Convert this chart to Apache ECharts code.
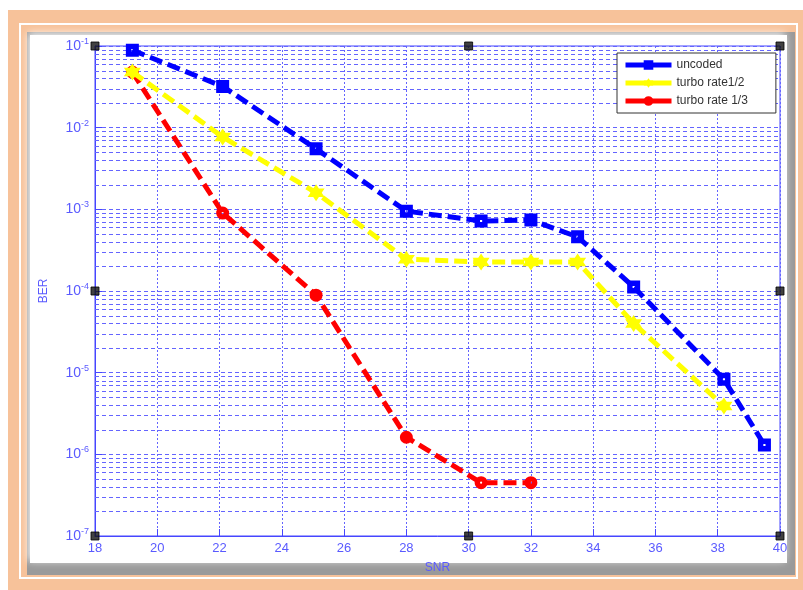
<!DOCTYPE html>
<html>
<head>
<meta charset="utf-8">
<script src="https://cdn.jsdelivr.net/npm/echarts@6/dist/echarts.min.js"></script>
<style>
  html, body { margin: 0; padding: 0; background: #ffffff; }
  #chart { width: 803px; height: 590px; }
</style>
</head>
<body>
<div id="chart"></div>
<script>
// SNR sample points (dB) for each curve
const snrUncoded = [19.2, 22.1, 25.1, 28.0, 30.4, 32.0, 33.5, 35.3, 38.2, 39.5];
const berUncoded = [0.089, 0.032, 0.0055, 0.00095, 0.00072, 0.00074, 0.00046, 1.12e-4, 8.3e-6, 1.3e-6];

const snrHalf = [19.2, 22.1, 25.1, 28.0, 30.4, 32.0, 33.5, 35.3, 38.2];
const berHalf = [0.048, 0.0077, 0.0016, 2.45e-4, 2.26e-4, 2.26e-4, 2.26e-4, 4.0e-5, 3.9e-6];

const snrThird = [19.2, 22.1, 25.1, 28.0, 30.4, 32.0];
const berThird = [0.048, 9.0e-4, 8.9e-5, 1.62e-6, 4.5e-7, 4.5e-7];

const seriesNames = ['uncoded', 'turbo rate1/2', 'turbo rate 1/3'];
const xTicks = [18, 20, 22, 24, 26, 28, 30, 32, 34, 36, 38, 40];
const yDecades = [1e-7, 1e-6, 1e-5, 1e-4, 1e-3, 1e-2, 1e-1];
// axis corner / midpoint handle markers
const handleX = [18, 30, 40, 18, 40, 18, 30, 40];
const handleY = [1e-1, 1e-1, 1e-1, 1e-4, 1e-4, 1e-7, 1e-7, 1e-7];

const AXIS = '#4646ff';
const GRID = '#6464ff';
const LABEL = '#5a5aff';
const FONT = 'Liberation Sans, Arial, sans-serif';

// minor horizontal grid levels at 2..9 x 10^k inside each decade
const minorLevels = [];
yDecades.slice(0, -1).forEach(d => {
  for (let m = 2; m <= 9; m++) minorLevels.push(m * d);
});

const pair = (xs, ys) => xs.map((x, i) => [x, ys[i]]);
const hexagram = 'path://M10,0 L12.89,5 L18.66,5 L15.77,10 L18.66,15 L12.89,15 L10,20 L7.11,15 L1.34,15 L4.23,10 L1.34,5 L7.11,5 Z';
const squareDot = 'path://M0,0 L12,0 L12,12 L0,12 Z M5,5 L5,7 L7,7 L7,5 Z';
const circleDot = 'path://M6,0 A6,6 0 1,1 6,12 A6,6 0 1,1 6,0 Z M6,5 A1,1 0 1,0 6,7 A1,1 0 1,0 6,5 Z';

const chart = echarts.init(document.getElementById('chart'));
chart.setOption({
  animation: false,
  backgroundColor: '#ffffff',
  graphic: [
    { type: 'rect', z: -10, shape: { x: 8, y: 10, width: 795, height: 580 }, style: { fill: '#f7c29a' } },
    { type: 'rect', z: -9, shape: { x: 20, y: 24, width: 777, height: 554 }, style: { fill: 'none', stroke: '#ffffff', lineWidth: 2 } },
    { type: 'rect', z: -8, shape: { x: 27, y: 32, width: 768, height: 543 }, style: { fill: '#9a9a9a' } },
    { type: 'rect', z: -7, shape: { x: 30, y: 35, width: 757, height: 528 },
      style: { fill: '#ffffff', shadowBlur: 8, shadowColor: 'rgba(255,255,255,0.9)', shadowOffsetX: -2, shadowOffsetY: -2 } }
  ],
  grid: { left: 95, right: 23, top: 46, bottom: 54, show: true, borderColor: AXIS, borderWidth: 1, backgroundColor: 'transparent' },
  legend: {
    data: seriesNames,
    orient: 'vertical',
    left: 617, top: 53,
    itemWidth: 46, itemHeight: 12, itemGap: 6,
    padding: [6, 28, 6, 6],
    backgroundColor: '#ffffff',
    borderColor: '#333333', borderWidth: 1,
    lineStyle: { type: 'solid', width: 5 },
    textStyle: { color: '#333333', fontSize: 12, fontFamily: FONT },
    z: 20
  },
  xAxis: {
    type: 'value', min: xTicks[0], max: xTicks[xTicks.length - 1], interval: 2,
    name: 'SNR', nameLocation: 'middle', nameGap: 26,
    nameTextStyle: { color: LABEL, fontSize: 12, fontFamily: FONT },
    axisLine: { lineStyle: { color: AXIS, width: 1 } },
    axisTick: { inside: true, length: 7, lineStyle: { color: AXIS } },
    axisLabel: { color: LABEL, fontSize: 13, margin: 6, fontFamily: FONT },
    splitLine: { show: true, lineStyle: { color: GRID, type: [2, 2], width: 1 } }
  },
  yAxis: {
    type: 'log', logBase: 10, min: yDecades[0], max: yDecades[yDecades.length - 1],
    name: 'BER', nameLocation: 'middle', nameGap: 45,
    nameTextStyle: { color: LABEL, fontSize: 12, fontFamily: FONT },
    axisLine: { lineStyle: { color: AXIS, width: 1 } },
    axisTick: { inside: true, length: 7, lineStyle: { color: AXIS } },
    axisLabel: {
      color: LABEL, margin: 6, fontSize: 14, fontFamily: FONT,
      formatter: v => '10{sup|' + Math.round(Math.log10(v)) + '}',
      rich: { sup: { fontSize: 9, color: LABEL, padding: [0, 0, 9, 0], fontFamily: FONT } }
    },
    splitLine: { show: true, lineStyle: { color: GRID, type: [4, 3], width: 1 } }
  },
  series: [
    {
      // minor horizontal grid lines spanning the plot width
      name: 'minor-grid', type: 'custom', silent: true, z: 1,
      data: minorLevels.map(v => [xTicks[0], v]),
      encode: { x: 0, y: 1 },
      renderItem: (params, api) => {
        const v = api.value(1);
        const a = api.coord([xTicks[0], v]);
        const b = api.coord([xTicks[xTicks.length - 1], v]);
        const y = Math.round(a[1]) + 0.5;
        return {
          type: 'line',
          shape: { x1: a[0], y1: y, x2: b[0], y2: y },
          style: { stroke: GRID, lineWidth: 1, lineDash: [4, 3] }
        };
      }
    },
    {
      name: seriesNames[0], type: 'line', data: pair(snrUncoded, berUncoded), z: 5,
      color: '#0000ff',
      lineStyle: { color: '#0000ff', width: 5, type: [13, 6] },
      symbol: squareDot, symbolSize: 13,
      itemStyle: { color: '#0000ff' }
    },
    {
      name: seriesNames[1], type: 'line', data: pair(snrHalf, berHalf), z: 4,
      color: '#ffff00',
      lineStyle: { color: '#ffff00', width: 5, type: [13, 6] },
      symbol: hexagram, symbolSize: 17,
      itemStyle: { color: '#ffff00' }
    },
    {
      name: seriesNames[2], type: 'line', data: pair(snrThird, berThird), z: 3,
      color: '#ff0000',
      lineStyle: { color: '#ff0000', width: 5, type: [13, 6] },
      symbol: circleDot, symbolSize: 13,
      itemStyle: { color: '#ff0000' }
    },
    {
      name: 'handles', type: 'scatter', data: pair(handleX, handleY), z: 10, silent: true, clip: false,
      symbol: 'rect', symbolSize: 8,
      itemStyle: { color: '#111111', borderColor: '#000000', borderWidth: 1 }
    }
  ]
});
</script>
</body>
</html>
